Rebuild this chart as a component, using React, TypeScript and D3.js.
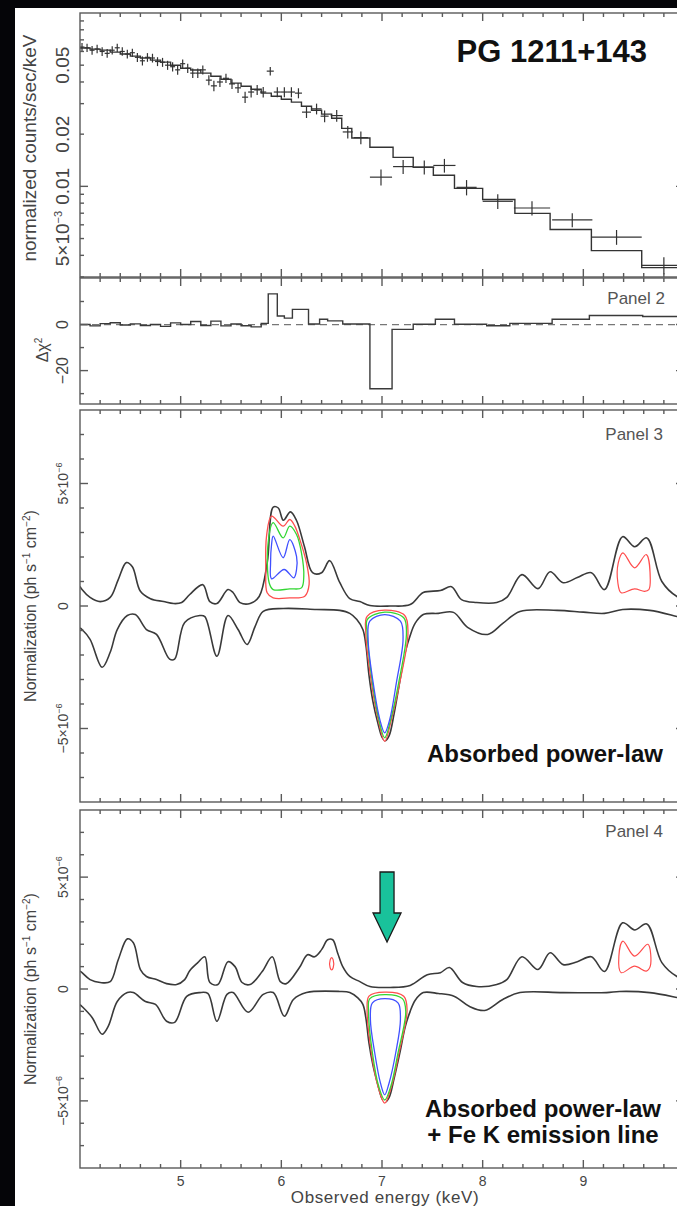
import React from 'react';
import * as d3 from 'd3';

const W = 677;
const H = 1206;

// ---- panel 1: unfolded spectrum (keV, counts/sec/keV)
const specE = [4.02, 4.07, 4.12, 4.17, 4.22, 4.27, 4.32, 4.37, 4.42, 4.47, 4.52, 4.57, 4.62, 4.67, 4.72, 4.77, 4.82, 4.87, 4.92, 4.97,
  5.02, 5.07, 5.12, 5.17, 5.22, 5.28, 5.33, 5.39, 5.45, 5.51, 5.57, 5.64, 5.70, 5.76, 5.82, 5.89, 5.96, 6.03, 6.10, 6.17,
  6.25, 6.35, 6.43, 6.55, 6.66, 6.79, 6.99, 7.21, 7.42, 7.62, 7.84, 8.15, 8.49, 8.89, 9.33, 9.80];
const specEerr = [0.025, 0.025, 0.025, 0.025, 0.025, 0.025, 0.025, 0.025, 0.025, 0.025, 0.025, 0.025, 0.025, 0.025, 0.025, 0.025, 0.025, 0.025, 0.025, 0.025,
  0.025, 0.025, 0.025, 0.025, 0.03, 0.03, 0.03, 0.03, 0.03, 0.03, 0.03, 0.03, 0.03, 0.03, 0.03, 0.035, 0.035, 0.035, 0.035, 0.035,
  0.045, 0.05, 0.04, 0.06, 0.05, 0.07, 0.11, 0.1, 0.1, 0.11, 0.1, 0.15, 0.18, 0.2, 0.25, 0.22];
const specN = [0.0636, 0.063, 0.061, 0.062, 0.060, 0.0585, 0.061, 0.063, 0.060, 0.058, 0.059, 0.0555, 0.053, 0.0555, 0.055, 0.0525, 0.052, 0.050, 0.049, 0.047,
  0.051, 0.048, 0.045, 0.045, 0.047, 0.041, 0.038, 0.040, 0.042, 0.039, 0.037, 0.0327, 0.035, 0.036, 0.035, 0.0462, 0.035, 0.035, 0.035, 0.0345,
  0.0268, 0.028, 0.0254, 0.0256, 0.0206, 0.0191, 0.0113, 0.0130, 0.0129, 0.0132, 0.00987, 0.0082, 0.0075, 0.0064, 0.0051, 0.0035];
const specNerr = [0.0035, 0.0035, 0.0035, 0.0035, 0.0035, 0.0034, 0.0034, 0.0034, 0.0034, 0.0033, 0.0033, 0.0033, 0.0032, 0.0032, 0.0032, 0.0031, 0.0031, 0.003, 0.003, 0.003,
  0.003, 0.003, 0.0028, 0.0028, 0.0028, 0.0027, 0.0026, 0.0026, 0.0026, 0.0025, 0.0025, 0.0024, 0.0024, 0.0024, 0.0024, 0.0026, 0.0023, 0.0023, 0.0023, 0.0023,
  0.002, 0.002, 0.002, 0.002, 0.0017, 0.0016, 0.0012, 0.0012, 0.0012, 0.0012, 0.001, 0.0008, 0.0007, 0.0006, 0.0005, 0.0004];

const modelEdges = [4.0, 4.1, 4.2, 4.3, 4.4, 4.5, 4.6, 4.7, 4.8, 4.9, 5.0, 5.1, 5.2, 5.3, 5.4, 5.5, 5.6, 5.7, 5.8, 5.9,
  6.0, 6.1, 6.2, 6.3, 6.4, 6.5, 6.6, 6.7, 6.88, 7.11, 7.31, 7.51, 7.72, 8.0, 8.32, 8.67, 9.08, 9.58, 10.0];
const modelN = [0.0628, 0.0619, 0.0611, 0.0595, 0.058, 0.0564, 0.055, 0.0535, 0.0521, 0.050,
  0.048, 0.0469, 0.045, 0.0432, 0.0415, 0.0394, 0.0378, 0.0363, 0.0345, 0.0331,
  0.0318, 0.0306, 0.029, 0.0275, 0.0261, 0.0247, 0.0216, 0.019,
  0.0168, 0.0147, 0.0129, 0.0116, 0.00973, 0.0084, 0.00698, 0.00564, 0.00426, 0.0034];

// ---- panel 2: delta chi^2 residuals
const chiEdges = [4.0, 4.1, 4.2, 4.3, 4.4, 4.5, 4.6, 4.7, 4.8, 4.9, 5.0, 5.1, 5.2, 5.3, 5.4, 5.5, 5.6, 5.7, 5.8, 5.87,
  5.96, 6.03, 6.11, 6.27, 6.38, 6.46, 6.61, 6.88, 7.10, 7.31, 7.53, 7.72, 8.04, 8.27, 8.69, 9.06, 9.59, 10.0];
const chiVals = [0, -0.6, 0.4, 0.8, -0.2, 0.3, -0.4, 0, -0.8, 0.7, 0, 1.3, -0.4, 1.5, -0.6, 0.2, -0.5, -1.0, 0.5,
  13.3, 3.7, 2.8, 6.6, 0.2, 2.3, 1.6, 0.2, -27.9, -2.1, 0.1, 2.3, 0.1, -0.5, 0.5, 2.3, 3.9, 3.5];

// ---- panel 3: line scan, absorbed power-law (keV, 1e-6 ph/s/cm2)
const upper3 = [[4.0, 0.8], [4.02, 0.67], [4.10, 0.35], [4.2, 0.18], [4.30, 0.35], [4.38, 1.08], [4.46, 1.77], [4.52, 1.6], [4.6, 0.6], [4.7, 0.3],
  [4.83, 0.18], [4.93, 0.1], [5.01, 0.14], [5.09, 0.47], [5.22, 0.87], [5.29, 0.18], [5.36, 0.1], [5.47, 0.67], [5.52, 0.55], [5.59, 0.14],
  [5.69, 0.1], [5.78, 0.39], [5.86, 1.77], [5.92, 4.04], [5.97, 4.0], [6.02, 3.5], [6.09, 3.84], [6.15, 3.5], [6.23, 2.42], [6.31, 1.36],
  [6.40, 1.36], [6.48, 1.85], [6.58, 0.96], [6.68, 0.3], [6.78, 0.18], [6.88, 0.02], [7.08, 0.0], [7.28, 0.06], [7.41, 0.55], [7.58, 0.63],
  [7.69, 0.79], [7.79, 0.26], [7.94, 0.14], [8.14, 0.14], [8.24, 0.35], [8.39, 1.28], [8.55, 0.71], [8.67, 1.4], [8.80, 0.95], [8.94, 1.16],
  [9.08, 1.36], [9.21, 0.67], [9.39, 2.83], [9.51, 2.42], [9.63, 2.78], [9.78, 1.0], [9.93, 0.39], [10.0, 0.3]];
const lower3 = [[4.0, -0.9], [4.02, -0.96], [4.10, -1.36], [4.22, -2.5], [4.30, -1.89], [4.37, -0.96], [4.47, -0.39], [4.55, -0.35], [4.66, -0.96], [4.76, -1.16],
  [4.89, -2.17], [4.94, -2.17], [5.04, -0.67], [5.19, -0.39], [5.24, -0.43], [5.36, -2.05], [5.47, -0.39], [5.57, -0.96], [5.66, -1.57], [5.74, -0.83],
  [5.82, -0.22], [6.02, -0.1], [6.35, -0.14], [6.58, -0.18], [6.68, -0.3], [6.75, -0.55], [6.81, -0.96], [6.84, -1.6], [6.87, -2.8], [6.91, -3.9],
  [6.96, -4.8], [7.00, -5.35], [7.03, -5.5], [7.07, -5.3], [7.12, -4.4], [7.18, -3.0], [7.23, -1.9], [7.28, -1.2], [7.33, -0.7], [7.41, -0.35],
  [7.56, -0.3], [7.71, -0.26], [7.85, -0.87], [8.05, -1.16], [8.2, -0.71], [8.37, -0.22], [8.74, -0.18], [9.0, -0.25], [9.21, -0.3], [9.39, -0.14],
  [9.66, -0.18], [9.93, -0.43], [10.0, -0.5]];

const c3RedFe = [[5.903, 3.67], [5.853, 2.85], [5.846, 1.49], [5.859, 0.54], [5.919, 0.33], [6.084, 0.33], [6.233, 0.40], [6.276, 0.88], [6.250, 1.76], [6.184, 2.71], [6.134, 3.26], [6.084, 3.53], [6.018, 3.26]];
const c3GreenFe = [[5.919, 3.40], [5.869, 2.58], [5.879, 0.95], [5.919, 0.67], [6.084, 0.70], [6.200, 0.74], [6.223, 1.22], [6.200, 2.17], [6.151, 2.92], [6.084, 3.26], [6.018, 2.78]];
const c3BlueFe = [[5.919, 2.85], [6.018, 1.97], [6.084, 2.71], [6.151, 2.03], [6.151, 1.49], [6.124, 1.15], [6.028, 1.49], [5.903, 1.11], [5.893, 1.76], [5.903, 2.51]];
const c3RedAbs = [[7.027, -0.17], [6.852, -0.42], [6.839, -1.09], [6.895, -3.13], [6.961, -4.63], [7.027, -5.52], [7.094, -4.63], [7.176, -3.13], [7.258, -1.09], [7.226, -0.39]];
const c3GreenAbs = [[7.027, -0.25], [6.855, -0.55], [6.852, -1.09], [6.905, -3.13], [6.968, -4.63], [7.027, -5.38], [7.087, -4.63], [7.166, -3.13], [7.243, -1.09], [7.216, -0.48]];
const c3BlueAbs = [[7.027, -0.35], [6.879, -0.62], [6.862, -1.37], [6.912, -3.13], [6.978, -4.63], [7.027, -5.18], [7.077, -4.63], [7.143, -3.13], [7.209, -1.37], [7.183, -0.62]];
const c3RedHi = [[9.393, 2.17], [9.347, 1.76], [9.343, 0.95], [9.376, 0.54], [9.509, 0.70], [9.608, 0.60], [9.651, 0.67], [9.665, 1.08], [9.625, 2.10], [9.509, 1.56]];

// ---- panel 4: line scan, absorbed power-law + Fe K line
const upper4 = [[4.0, 0.8], [4.02, 0.73], [4.10, 0.42], [4.20, 0.29], [4.30, 0.33], [4.38, 1.31], [4.47, 2.24], [4.53, 2.07], [4.60, 0.87], [4.66, 0.56],
  [4.76, 0.42], [4.86, 0.24], [4.96, 0.2], [5.04, 0.42], [5.09, 0.82], [5.17, 1.18], [5.24, 1.44], [5.29, 0.29], [5.37, 0.2], [5.47, 1.22],
  [5.54, 1.0], [5.61, 0.29], [5.69, 0.2], [5.81, 0.78], [5.91, 1.44], [5.99, 0.33], [6.05, 0.24], [6.18, 0.96], [6.26, 1.53], [6.33, 1.44],
  [6.40, 1.76], [6.46, 2.2], [6.51, 2.2], [6.56, 1.6], [6.61, 1.0], [6.68, 0.56], [6.78, 0.33], [6.88, 0.11], [7.08, 0.07], [7.28, 0.16],
  [7.45, 0.64], [7.58, 0.73], [7.67, 0.96], [7.80, 0.29], [7.94, 0.11], [8.14, 0.2], [8.24, 0.42], [8.39, 1.44], [8.55, 0.87], [8.67, 1.62],
  [8.80, 1.09], [8.94, 1.22], [9.08, 1.44], [9.21, 0.78], [9.39, 2.96], [9.51, 2.64], [9.63, 2.91], [9.78, 1.18], [9.93, 0.56], [10.0, 0.45]];
const lower4 = [[4.0, -0.7], [4.02, -0.78], [4.12, -1.27], [4.22, -2.02], [4.28, -1.67], [4.37, -0.56], [4.47, -0.16], [4.53, -0.16], [4.65, -0.56], [4.75, -0.69],
  [4.86, -1.44], [4.94, -1.49], [5.06, -0.33], [5.19, -0.16], [5.27, -0.2], [5.36, -1.44], [5.46, -0.24], [5.52, -0.16], [5.67, -1.04], [5.82, -0.24],
  [5.92, -0.16], [6.03, -1.22], [6.12, -0.47], [6.25, -0.16], [6.58, -0.11], [6.68, -0.16], [6.76, -0.4], [6.81, -0.69], [6.84, -1.3], [6.87, -2.4],
  [6.91, -3.4], [6.96, -4.3], [7.00, -4.9], [7.03, -5.05], [7.07, -4.85], [7.12, -4.0], [7.18, -2.8], [7.23, -1.7], [7.28, -1.0], [7.33, -0.5],
  [7.41, -0.16], [7.56, -0.2], [7.72, -0.33], [7.87, -0.78], [8.02, -0.96], [8.20, -0.47], [8.37, -0.16], [8.80, -0.16], [9.23, -0.16], [9.36, -0.11],
  [9.66, -0.16], [9.93, -0.38], [10.0, -0.45]];

const c4RedAbs = [[7.027, -0.14], [6.871, -0.32], [6.852, -0.92], [6.895, -2.86], [6.961, -4.36], [7.027, -5.10], [7.094, -4.36], [7.169, -2.86], [7.249, -0.92], [7.216, -0.32]];
const c4GreenAbs = [[7.027, -0.25], [6.879, -0.43], [6.866, -1.0], [6.905, -2.86], [6.968, -4.36], [7.027, -4.96], [7.087, -4.36], [7.159, -2.86], [7.236, -1.0], [7.203, -0.43]];
const c4BlueAbs = [[7.027, -0.43], [6.905, -0.62], [6.885, -1.37], [6.928, -2.86], [6.985, -4.21], [7.027, -4.73], [7.070, -4.21], [7.136, -2.86], [7.183, -1.37], [7.159, -0.62]];
const c4RedHi = [[9.393, 2.14], [9.353, 1.47], [9.376, 0.73], [9.509, 1.02], [9.625, 0.80], [9.665, 1.02], [9.641, 2.0], [9.509, 1.47]];
const c4RedFe = [[6.485, 1.3], [6.50, 1.4], [6.515, 1.3], [6.515, 0.95], [6.50, 0.85], [6.485, 0.95]];

const xTickLabels = [5, 6, 7, 8, 9];
const arrowAt = 7.05;

const FONT = "'Liberation Sans', Arial, Helvetica, sans-serif";
const RED = '#ff4d4d';
const GREEN = '#33d633';
const BLUE = '#4050ff';
const INK = '#3a3a3a';

// scales
const x = d3.scaleLinear().domain([4, 10]).range([80, 684]);
const y1 = d3.scaleLog().domain([0.003, 0.1]).range([277, 13]);
const y2 = d3.scaleLinear().domain([-34.5, 20.2]).range([404, 278]);
const y3 = d3.scaleLinear().domain([-8, 8]).range([802, 410]);
const y4 = d3.scaleLinear().domain([-8, 8]).range([1168, 810]);

function Frame({ top, bottom, yMajor, yMinor, id }) {
  const ticks = [];
  for (let i = 21; i < 50; i++) {
    const px = x(i / 5);
    const len = i % 5 === 0 ? 8 : 4;
    ticks.push(<line key={id + 't' + i} x1={px} x2={px} y1={top} y2={top + len} />);
    ticks.push(<line key={id + 'b' + i} x1={px} x2={px} y1={bottom} y2={bottom - len} />);
  }
  yMajor.forEach((py, i) => {
    ticks.push(<line key={id + 'lM' + i} x1={80} x2={88} y1={py} y2={py} />);
    ticks.push(<line key={id + 'rM' + i} x1={676} x2={684} y1={py} y2={py} />);
  });
  yMinor.forEach((py, i) => {
    ticks.push(<line key={id + 'lm' + i} x1={80} x2={84} y1={py} y2={py} />);
    ticks.push(<line key={id + 'rm' + i} x1={680} x2={684} y1={py} y2={py} />);
  });
  return (
    <g stroke="#5a5a5a" strokeWidth={1.4} fill="none">
      <rect x={80} y={top} width={604} height={bottom - top} />
      {ticks}
    </g>
  );
}

function RotText({ cx, cy, size, children, fill = '#444' }) {
  return (
    <text transform={`translate(${cx},${cy}) rotate(-90)`} textAnchor="middle" dy="0.35em"
      fontSize={size} fill={fill} fontFamily={FONT}>{children}</text>
  );
}

export default function App() {
  const stepLine = d3.line().curve(d3.curveStepAfter);

  // panel 1
  const modelPts = modelEdges.map((e, i) => [x(e), y1(modelN[Math.min(i, modelN.length - 1)])]);
  const chiPts = chiEdges.map((e, i) => [x(e), y2(chiVals[Math.min(i, chiVals.length - 1)])]);

  const smooth = (ys) => d3.line().x(d => x(d[0])).y(d => ys(d[1])).curve(d3.curveCatmullRom.alpha(0.5));
  const loop = (ys) => d3.line().x(d => x(d[0])).y(d => ys(d[1])).curve(d3.curveCatmullRomClosed.alpha(0.5));

  const p1Minor = [0.003, 0.004, 0.005, 0.006, 0.007, 0.008, 0.009, 0.02, 0.03, 0.04, 0.05, 0.06, 0.07, 0.08, 0.09].map(v => y1(v));
  const p1Major = [0.01].map(v => y1(v));
  const p2Major = [0, -20].map(v => y2(v));
  const p2Minor = [10, -10, -30].map(v => y2(v));
  const nMinor = [-7, -6, -4, -3, -2, -1, 1, 2, 3, 4, 6, 7];
  const nMajor = [-5, 0, 5];

  const ax = x(arrowAt);
  const arrow = [
    [ax - 7, 872], [ax + 7, 872], [ax + 7, 913], [ax + 14, 913], [ax, 942], [ax - 14, 913], [ax - 7, 913]
  ].map(p => p.join(',')).join(' ');

  return (
    <svg width={W} height={H} style={{ position: 'absolute', left: 0, top: 0 }} fontFamily={FONT}>
      <defs>
        <clipPath id="c1"><rect x={80} y={13} width={604} height={264} /></clipPath>
        <clipPath id="c2"><rect x={80} y={278} width={604} height={126} /></clipPath>
        <clipPath id="c3"><rect x={80} y={410} width={604} height={392} /></clipPath>
        <clipPath id="c4"><rect x={80} y={810} width={604} height={358} /></clipPath>
      </defs>
      <rect x={0} y={0} width={W} height={H} fill="#050508" />
      <rect x={15} y={8} width={W - 15} height={H - 8} fill="#ffffff" />

      {/* panel 1 */}
      <g clipPath="url(#c1)" stroke="#333" fill="none">
        <path d={stepLine(modelPts)} strokeWidth={1.4} />
        {specE.map((e, i) => (
          <g key={'d' + i} strokeWidth={1.2}>
            <line x1={x(e - specEerr[i])} x2={x(e + specEerr[i])} y1={y1(specN[i])} y2={y1(specN[i])} />
            <line x1={x(e)} x2={x(e)} y1={y1(specN[i] - specNerr[i])} y2={y1(specN[i] + specNerr[i])} />
          </g>
        ))}
      </g>
      <Frame id="p1" top={13} bottom={277} yMajor={p1Major} yMinor={p1Minor} />
      <RotText cx={62} cy={y1(0.05)} size={19}>0.05</RotText>
      <RotText cx={62} cy={y1(0.02)} size={19}>0.02</RotText>
      <RotText cx={62} cy={y1(0.01)} size={19}>0.01</RotText>
      <RotText cx={62} cy={y1(0.005)} size={19}>5×10<tspan fontSize={11} dy={-7}>−3</tspan></RotText>
      <RotText cx={29} cy={148} size={19}>normalized counts/sec/keV</RotText>
      <text x={647} y={62} textAnchor="end" fontSize={31} fontWeight="bold" fill="#111">PG 1211+143</text>

      {/* panel 2 */}
      <line x1={80} x2={684} y1={y2(0)} y2={y2(0)} stroke="#777" strokeWidth={1.3} strokeDasharray="7,5" />
      <path d={stepLine(chiPts)} clipPath="url(#c2)" fill="none" stroke="#3a3a3a" strokeWidth={1.4} />
      <Frame id="p2" top={278} bottom={404} yMajor={p2Major} yMinor={p2Minor} />
      <RotText cx={62} cy={y2(0)} size={16}>0</RotText>
      <RotText cx={62} cy={y2(-20)} size={16}>−20</RotText>
      <RotText cx={42} cy={350} size={16}>Δχ<tspan fontSize={10} dy={-6}>2</tspan></RotText>
      <text x={665} y={304} textAnchor="end" fontSize={17} fill="#555">Panel 2</text>

      {/* panel 3 */}
      <g clipPath="url(#c3)" fill="none">
        <path d={smooth(y3)(upper3)} stroke={INK} strokeWidth={1.6} />
        <path d={smooth(y3)(lower3)} stroke={INK} strokeWidth={1.6} />
        <path d={loop(y3)(c3RedFe)} stroke={RED} strokeWidth={1.3} />
        <path d={loop(y3)(c3GreenFe)} stroke={GREEN} strokeWidth={1.3} />
        <path d={loop(y3)(c3BlueFe)} stroke={BLUE} strokeWidth={1.3} />
        <path d={loop(y3)(c3RedAbs)} stroke={RED} strokeWidth={1.3} fill="#fff" />
        <path d={loop(y3)(c3GreenAbs)} stroke={GREEN} strokeWidth={1.3} />
        <path d={loop(y3)(c3BlueAbs)} stroke={BLUE} strokeWidth={1.3} />
        <path d={loop(y3)(c3RedHi)} stroke={RED} strokeWidth={1.2} />
      </g>
      <Frame id="p3" top={410} bottom={802} yMajor={nMajor.map(v => y3(v))} yMinor={nMinor.map(v => y3(v))} />
      <RotText cx={63} cy={y3(5)} size={14}>5×10<tspan fontSize={9} dy={-6}>−6</tspan></RotText>
      <RotText cx={63} cy={y3(0)} size={14}>0</RotText>
      <RotText cx={63} cy={y3(-5)} size={14}>−5×10<tspan fontSize={9} dy={-6}>−6</tspan></RotText>
      <RotText cx={30} cy={y3(0)} size={16}>Normalization (ph s<tspan fontSize={10} dy={-6}>−1</tspan><tspan dy={6}> cm</tspan><tspan fontSize={10} dy={-6}>−2</tspan><tspan dy={6}>)</tspan></RotText>
      <text x={663} y={440} textAnchor="end" fontSize={17} fill="#555">Panel 3</text>
      <text x={663} y={762} textAnchor="end" fontSize={24} fontWeight="bold" fill="#111">Absorbed power-law</text>

      {/* panel 4 */}
      <g clipPath="url(#c4)" fill="none">
        <path d={smooth(y4)(upper4)} stroke={INK} strokeWidth={1.6} />
        <path d={smooth(y4)(lower4)} stroke={INK} strokeWidth={1.6} />
        <path d={loop(y4)(c4RedAbs)} stroke={RED} strokeWidth={1.3} fill="#fff" />
        <path d={loop(y4)(c4GreenAbs)} stroke={GREEN} strokeWidth={1.3} />
        <path d={loop(y4)(c4BlueAbs)} stroke={BLUE} strokeWidth={1.3} />
        <path d={loop(y4)(c4RedHi)} stroke={RED} strokeWidth={1.2} />
        <path d={loop(y4)(c4RedFe)} stroke={RED} strokeWidth={1.2} />
      </g>
      <Frame id="p4" top={810} bottom={1168} yMajor={nMajor.map(v => y4(v))} yMinor={nMinor.map(v => y4(v))} />
      <RotText cx={63} cy={y4(5)} size={14}>5×10<tspan fontSize={9} dy={-6}>−6</tspan></RotText>
      <RotText cx={63} cy={y4(0)} size={14}>0</RotText>
      <RotText cx={63} cy={y4(-5)} size={14}>−5×10<tspan fontSize={9} dy={-6}>−6</tspan></RotText>
      <RotText cx={30} cy={y4(0)} size={16}>Normalization (ph s<tspan fontSize={10} dy={-6}>−1</tspan><tspan dy={6}> cm</tspan><tspan fontSize={10} dy={-6}>−2</tspan><tspan dy={6}>)</tspan></RotText>
      <text x={663} y={837} textAnchor="end" fontSize={17} fill="#555">Panel 4</text>
      <polygon points={arrow} fill="#19c29b" stroke="#1a1a1a" strokeWidth={1.3} />
      <text x={543} y={1117} textAnchor="middle" fontSize={24} fontWeight="bold" fill="#111">Absorbed power-law</text>
      <text x={543} y={1143} textAnchor="middle" fontSize={24} fontWeight="bold" fill="#111">+ Fe K emission line</text>

      {/* x axis */}
      {xTickLabels.map(v => (
        <text key={'xl' + v} x={x(v)} y={1186} textAnchor="middle" fontSize={14} fill="#444">{v}</text>
      ))}
      <text x={385} y={1203} textAnchor="middle" fontSize={17} fill="#444" letterSpacing={0.6}>Observed energy (keV)</text>
    </svg>
  );
}
